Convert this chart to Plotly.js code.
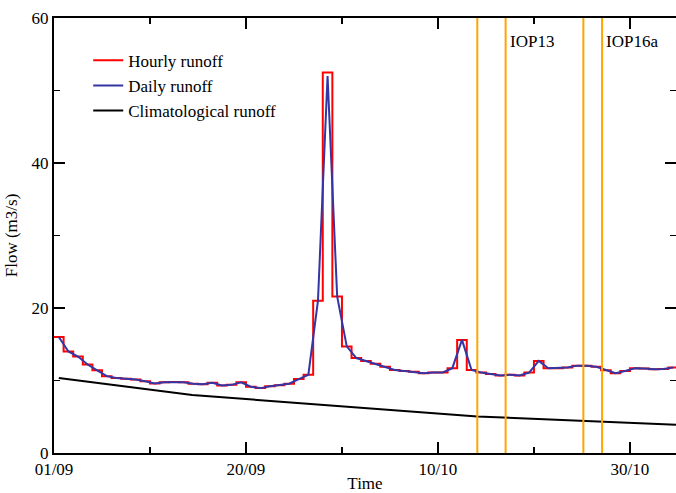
<!DOCTYPE html>
<html>
<head>
<meta charset="utf-8">
<script src="https://cdn.plot.ly/plotly-3.0.1.min.js"></script>
<style>html,body{margin:0;padding:0;background:#fff;overflow:hidden}</style>
</head>
<body>
<div id="chart" style="width:676px;height:493px"></div>
<script>
// Days counted from the left edge of the time axis (01/09)
const tickDays = [0, 20, 40, 60];
const tickLabels = ['01/09', '20/09', '10/10', '30/10'];
const minorTickDays = [10, 30, 50];

// One value per day (step of the hourly series, point of the daily series)
const hourlyRunoff = [16.0, 14.0, 13.3, 12.2, 11.4, 10.6, 10.35, 10.25, 10.15, 9.9,
  9.6, 9.75, 9.8, 9.75, 9.55, 9.5, 9.7, 9.3, 9.4, 9.75,
  9.15, 8.95, 9.2, 9.35, 9.55, 10.2, 10.8, 21.0, 52.5, 21.6,
  14.7, 13.1, 12.7, 12.3, 11.9, 11.45, 11.3, 11.2, 11.0, 11.1,
  11.1, 11.7, 15.6, 11.45, 11.1, 10.9, 10.7, 10.8, 10.7, 11.1,
  12.7, 11.7, 11.7, 11.8, 12.05, 12.05, 11.9, 11.4, 11.0, 11.3,
  11.7, 11.65, 11.55, 11.6, 11.8];
const dailyRunoff = [16.0, 14.0, 13.3, 12.2, 11.4, 10.6, 10.35, 10.25, 10.15, 9.9,
  9.6, 9.75, 9.8, 9.75, 9.55, 9.5, 9.7, 9.3, 9.4, 9.75,
  9.15, 8.95, 9.2, 9.35, 9.55, 10.2, 10.8, 21.0, 52.0, 21.6,
  14.7, 13.1, 12.7, 12.3, 11.9, 11.45, 11.3, 11.2, 11.0, 11.1,
  11.1, 11.7, 15.6, 11.45, 11.1, 10.9, 10.7, 10.8, 10.7, 11.1,
  12.7, 11.7, 11.7, 11.8, 12.05, 12.05, 11.9, 11.4, 11.0, 11.3,
  11.7, 11.65, 11.55, 11.6, 11.8];

const climDays = [0.5, 14.4, 44.1, 64.8];
const climRunoff = [10.35, 8.0, 5.05, 3.9];

// Intensive observation periods: [start, end] in days, and their labels
const iopPeriods = [[44.1, 47.05], [55.15, 57.1]];
const iopLabels = ['IOP13', 'IOP16a'];

const FONT = 'Liberation Serif, Times New Roman, serif';

// Step series: each daily value holds from the start of its day to the next
const hourlyX = hourlyRunoff.map((v, i) => i).concat([hourlyRunoff.length]);
const hourlyY = hourlyRunoff.concat([hourlyRunoff[hourlyRunoff.length - 1]]);
const dailyX = dailyRunoff.map((v, i) => i + 0.5);

const traces = [
  {x: hourlyX, y: hourlyY, mode: 'lines', name: 'Hourly runoff',
   line: {color: '#ff0000', width: 2, shape: 'hv'}},
  {x: dailyX, y: dailyRunoff, mode: 'lines', name: 'Daily runoff',
   line: {color: '#3535a5', width: 2}},
  {x: climDays, y: climRunoff, mode: 'lines', name: 'Climatological runoff',
   line: {color: '#000000', width: 2}}
];

const shapes = [];
const annotations = [];
iopPeriods.forEach((p, i) => {
  p.forEach(d => shapes.push({type: 'line', xref: 'x', yref: 'paper', x0: d, x1: d, y0: 0, y1: 1,
    line: {color: '#ffa500', width: 2}}));
  annotations.push({xref: 'x', yref: 'paper', x: p[1], y: 0.945, xanchor: 'left', yanchor: 'middle',
    xshift: 2, text: iopLabels[i], showarrow: false, font: {family: FONT, size: 17, color: '#000'}});
});

const axisCommon = {
  ticks: 'inside', ticklen: 11, tickwidth: 1.5, tickcolor: '#000',
  showline: true, linecolor: '#000', linewidth: 2, mirror: 'allticks',
  showgrid: false, zeroline: false,
  tickfont: {family: FONT, size: 17, color: '#000'}
};

const layout = {
  width: 676, height: 493,
  margin: {l: 54, r: 0, t: 18, b: 40},
  paper_bgcolor: '#fff', plot_bgcolor: '#fff',
  font: {family: FONT, size: 17, color: '#000'},
  xaxis: Object.assign({}, axisCommon, {
    range: [0, 64.8], tickmode: 'array', tickvals: tickDays, ticktext: tickLabels,
    minor: {tickmode: 'array', tickvals: minorTickDays, ticks: 'inside', ticklen: 6, tickwidth: 1.5, tickcolor: '#000', showgrid: false},
    title: {text: 'Time', font: {family: FONT, size: 17, color: '#000'}, standoff: 2}
  }),
  yaxis: Object.assign({}, axisCommon, {
    range: [0, 60], tickmode: 'array', tickvals: [0, 20, 40, 60],
    minor: {tickmode: 'array', tickvals: [10, 30, 50], ticks: 'inside', ticklen: 6, tickwidth: 1.5, tickcolor: '#000', showgrid: false},
    title: {text: 'Flow (m3/s)', font: {family: FONT, size: 17, color: '#000'}, standoff: 10}
  }),
  legend: {x: 0.055, y: 0.943, xanchor: 'left', yanchor: 'top', bgcolor: 'rgba(0,0,0,0)',
    borderwidth: 0, font: {family: FONT, size: 17, color: '#000'}},
  shapes: shapes,
  annotations: annotations,
  showlegend: true
};

Plotly.newPlot('chart', traces, layout, {displayModeBar: false, staticPlot: true});
</script>
</body>
</html>
